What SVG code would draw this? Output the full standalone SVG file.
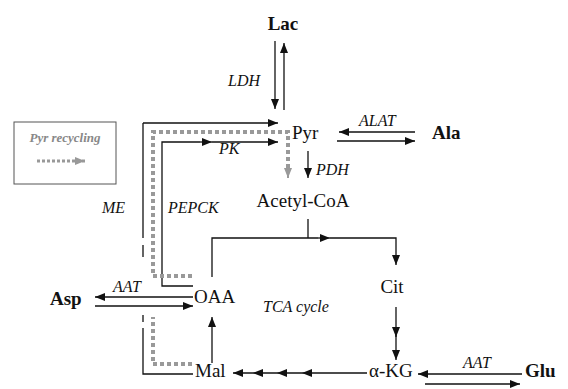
<svg xmlns="http://www.w3.org/2000/svg" width="568" height="389" viewBox="0 0 568 389">
<defs>
<marker id="ah" viewBox="0 0 10 8" refX="10" refY="4" markerWidth="10" markerHeight="8" markerUnits="userSpaceOnUse" orient="auto"><path d="M0,0 L10,4 L0,8 z" fill="#111"/></marker>
<marker id="ahg" viewBox="0 0 10 8" refX="10" refY="4" markerWidth="10" markerHeight="8" markerUnits="userSpaceOnUse" orient="auto"><path d="M0,0 L10,4 L0,8 z" fill="#999"/></marker>
</defs>
<style>
text{font-family:'Liberation Serif','Times New Roman','DejaVu Serif',serif}
.t{font-size:19px;fill:#111}
.b{font-size:19px;font-weight:bold;fill:#111}
.i{font-size:16px;font-style:italic;fill:#111}
.ln{fill:none;stroke:#111;stroke-width:1.3}
.a{fill:none;stroke:#111;stroke-width:1.3;marker-end:url(#ah)}
.am{fill:none;stroke:#111;stroke-width:1.3;marker-mid:url(#ah);marker-end:url(#ah)}
.g{fill:none;stroke:#999;stroke-width:4;stroke-dasharray:4 3}
</style>
<g id="legend">
<rect x="14" y="122" width="102" height="62" fill="#fff" stroke="#555" stroke-width="1"/>
<text x="65" y="142" text-anchor="middle" font-size="13" font-style="italic" font-weight="bold" fill="#888">Pyr recycling</text>
<path d="M37,161 H85" fill="none" stroke="#999" stroke-width="3" stroke-dasharray="3 2" marker-end="url(#ahg)"/>
</g>
<g id="connectors">
<path class="a" d="M275,41 V109"/>
<path class="a" d="M284,110 V43"/>
<path class="ln" d="M143,238 V123"/>
<path class="a" d="M143,123 H278"/>
<path class="ln" d="M143,245 V257 M143,315 V322"/>
<path class="ln" d="M193,374 H143 V328"/>
<path class="ln" d="M193,286 H162 V142 H200"/>
<path class="a" d="M200,142 H212"/>
<path class="a" d="M212,142 H278"/>
<path class="a" d="M308,151 V178"/>
<path class="ln" d="M308,219 V238"/>
<path class="ln" d="M212,277 V238 H318"/>
<path class="a" d="M318,238 H330"/>
<path class="a" d="M330,238 H396 V265"/>
<path class="a" d="M396,307 V337"/>
<path class="a" d="M396,335 V360"/>
<path class="am" d="M367,373 H302 H277 H253 H233"/>
<path class="a" d="M212,363 V317"/>
<path class="a" d="M193,297 H95"/>
<path class="a" d="M95,306 H193"/>
<path class="a" d="M415,132 H339"/>
<path class="a" d="M337,141 H415"/>
<path class="a" d="M522,374 H418"/>
<path class="a" d="M425,384 H520"/>
<path class="g" d="M192,276 H153 V132 H288 V170"/>
<path d="M288,168 V178" fill="none" stroke="#999" stroke-width="2" marker-end="url(#ahg)"/>
<path class="g" d="M192,364 H153 V317"/>
</g>
<g id="Lac"><text class="b" x="283" y="30" text-anchor="middle">Lac</text></g>
<g id="Pyr"><text class="t" x="292" y="139">Pyr</text></g>
<g id="Ala"><text class="b" x="432" y="139">Ala</text></g>
<g id="AcetylCoA"><text class="t" x="303" y="207" text-anchor="middle">Acetyl-CoA</text></g>
<g id="Cit"><text class="t" x="392" y="293" text-anchor="middle">Cit</text></g>
<g id="aKG"><text class="t" x="369" y="377">α-KG</text></g>
<g id="Glu"><text class="b" x="525" y="377">Glu</text></g>
<g id="Mal"><text class="t" x="195" y="377">Mal</text></g>
<g id="OAA"><text class="t" x="194" y="303">OAA</text></g>
<g id="Asp"><text class="b" x="50" y="305">Asp</text></g>
<g id="labels">
<text class="i" x="228" y="86">LDH</text>
<text class="i" x="359" y="126">ALAT</text>
<text class="i" x="219" y="154">PK</text>
<text class="i" x="316" y="175">PDH</text>
<text class="i" x="102" y="213">ME</text>
<text class="i" x="168" y="213">PEPCK</text>
<text class="i" x="113" y="292">AAT</text>
<text class="i" x="263" y="312">TCA cycle</text>
<text class="i" x="463" y="368">AAT</text>
</g>
</svg>
